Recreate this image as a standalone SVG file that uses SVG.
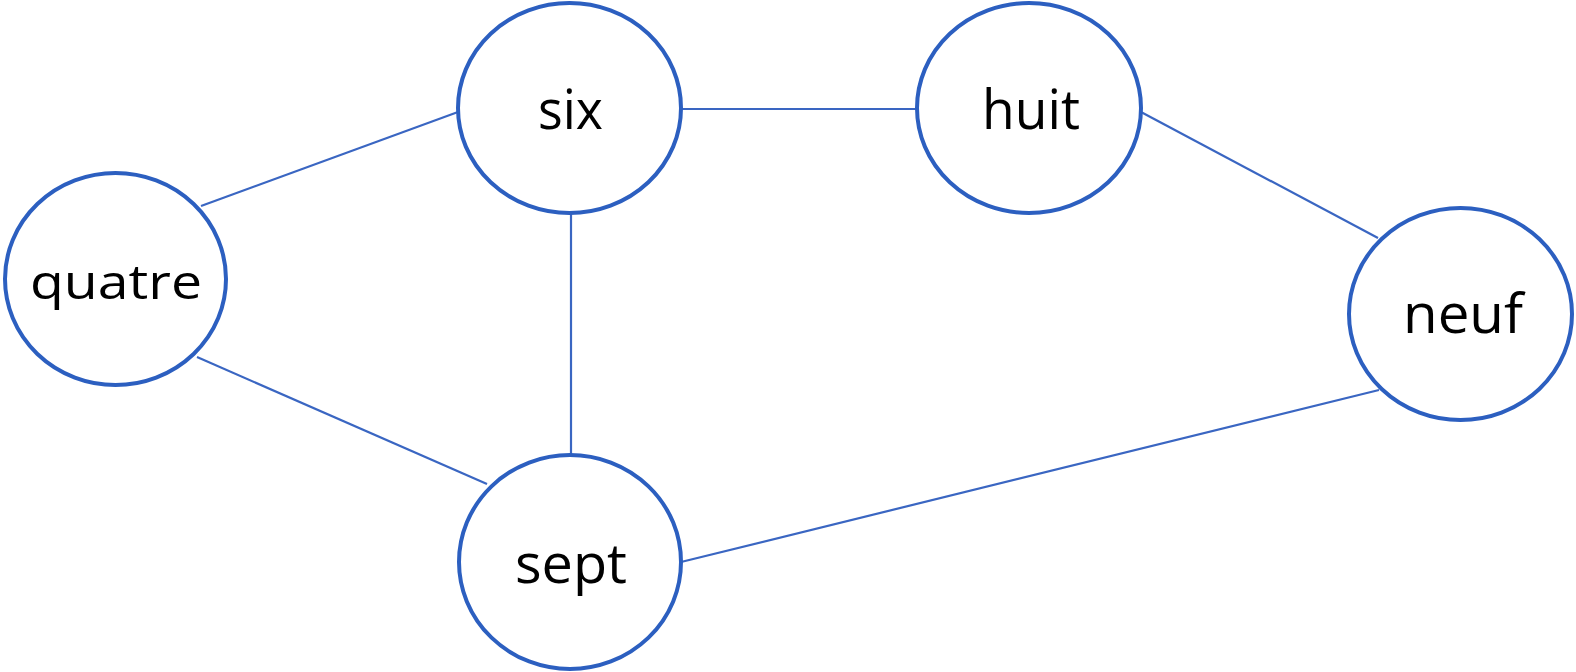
<svg xmlns="http://www.w3.org/2000/svg" width="1576" height="672" viewBox="0 0 1576 672">
<style>
.node ellipse{fill:#ffffff;stroke:#2c5fc0;stroke-width:4}
.edges line{stroke:#3a66c2;stroke-width:2.2}
.node text{font-family:"Open Sans","Noto Sans",sans-serif;fill:#000000;text-anchor:middle}
</style>
<rect width="1576" height="672" fill="#ffffff"/>
<g class="edges" id="edges">
<line x1="201" y1="206" x2="458" y2="112"/>
<line x1="197" y1="357" x2="487" y2="484"/>
<line x1="571" y1="213" x2="571" y2="455"/>
<line x1="681" y1="109" x2="917" y2="109"/>
<line x1="1141" y1="112" x2="1378" y2="238"/>
<line x1="681" y1="562" x2="1379" y2="390"/>
</g>
<g class="node" id="quatre">
<ellipse cx="115.5" cy="279" rx="110.5" ry="106"/>
<text x="116" y="299" font-size="47" textLength="172" lengthAdjust="spacingAndGlyphs">quatre</text>
</g>
<g class="node" id="six">
<ellipse cx="569.5" cy="108" rx="111.5" ry="105"/>
<text x="570.5" y="129" font-size="54" textLength="65" lengthAdjust="spacingAndGlyphs">six</text>
</g>
<g class="node" id="huit">
<ellipse cx="1029" cy="108" rx="112" ry="105"/>
<text x="1031" y="129" font-size="54" textLength="98" lengthAdjust="spacingAndGlyphs">huit</text>
</g>
<g class="node" id="neuf">
<ellipse cx="1460.5" cy="314" rx="111.5" ry="106"/>
<text x="1463" y="333" font-size="54" textLength="120" lengthAdjust="spacingAndGlyphs">neuf</text>
</g>
<g class="node" id="sept">
<ellipse cx="570" cy="562" rx="111" ry="107"/>
<text x="571" y="583" font-size="54" textLength="112" lengthAdjust="spacingAndGlyphs">sept</text>
</g>
</svg>
